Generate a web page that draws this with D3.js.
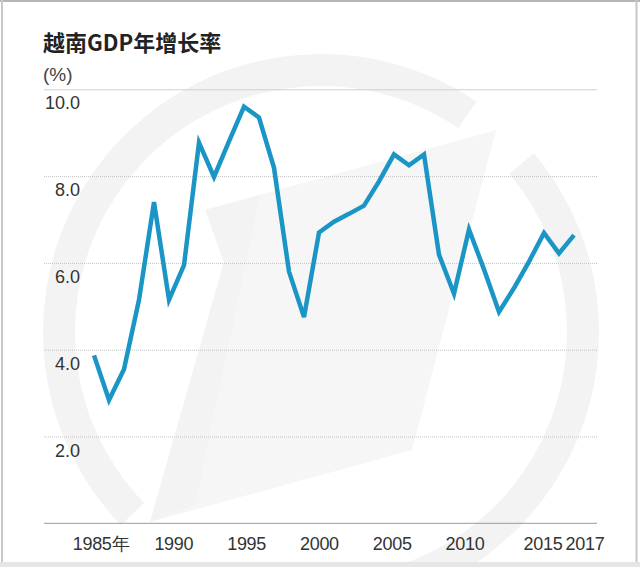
<!DOCTYPE html>
<html><head><meta charset="utf-8">
<script src="https://cdn.jsdelivr.net/npm/d3@7"></script>
<style>
html,body{margin:0;padding:0;background:#fff;}
svg{display:block;}
</style></head>
<body>
<script>
const years = [1985,1986,1987,1988,1989,1990,1991,1992,1993,1994,1995,1996,1997,1998,1999,2000,2001,2002,2003,2004,2005,2006,2007,2008,2009,2010,2011,2012,2013,2014,2015,2016,2017];
const growth = [3.87,2.84,3.55,5.15,7.4,5.15,5.95,8.77,7.98,8.8,9.6,9.35,8.19,5.8,4.75,6.7,6.95,7.13,7.32,7.88,8.5,8.25,8.5,6.19,5.29,6.77,5.85,4.87,5.42,6.03,6.69,6.22,6.64];
const yTicks = [2,4,6,8,10];
const xTickYears = [1985,1990,1995,2000,2005,2010,2015,2017];
const xTickLabels = ["1985年","1990","1995","2000","2005","2010","2015","2017"];
const title = "越南GDP年增长率";
const unit = "(%)";

const W = 640, H = 567;
const svg = d3.select("body").append("svg").attr("width", W).attr("height", H);

svg.append("rect").attr("x",0).attr("y",0).attr("width",W).attr("height",H).attr("fill","#fff");

// watermark
const wm = svg.append("g");
const cx = 321, cy = 332;
const arc = d3.arc().innerRadius(246).outerRadius(278);
const ringCol = "#f3f3f4";
wm.append("path").attr("transform",`translate(${cx},${cy})`)
  .attr("d", arc({startAngle: 50*Math.PI/180, endAngle: 200*Math.PI/180}))
  .attr("fill",ringCol);
wm.append("path").attr("transform",`translate(${cx},${cy})`)
  .attr("d", arc({startAngle: 226*Math.PI/180, endAngle: 394*Math.PI/180}))
  .attr("fill",ringCol);
wm.append("path")
  .attr("d","M205,210 L496,130 L412,450 L150,522 L224,262 Z")
  .attr("fill","#f6f6f7");
wm.append("path")
  .attr("d","M205,210 L260,195 L195,505 L150,522 L224,262 Z")
  .attr("fill","#f3f3f4");

// borders
svg.append("line").attr("x1",0).attr("x2",W).attr("y1",1).attr("y2",1).attr("stroke","#b5b5b5").attr("stroke-width",2);
svg.append("line").attr("x1",2).attr("x2",2).attr("y1",0).attr("y2",H).attr("stroke","#c8c8c8").attr("stroke-width",2);
svg.append("line").attr("x1",636.5).attr("x2",636.5).attr("y1",0).attr("y2",H).attr("stroke","#c8c8c8").attr("stroke-width",2);
svg.append("rect").attr("x",0).attr("y",562).attr("width",W).attr("height",5).attr("fill","#e6e6e6");

const x = d3.scaleLinear().domain([1985,2017]).range([94,574]);
const y = d3.scaleLinear().domain([0,10]).range([523.3,89.3]);
// tick label placement scale (labels are spaced slightly differently from the data)
const xLab = d3.scaleLinear().domain([1985,2010,2015,2017]).range([101,465,543,585]);
const gx0 = 44, gx1 = 597;

// title
svg.append("text").attr("x",43).attr("y",51).text(title)
  .attr("font-family","'Noto Sans CJK SC','Noto Sans',sans-serif")
  .attr("font-weight","bold").attr("font-size",22).attr("fill","#222");
svg.append("text").attr("x",43).attr("y",81).text(unit)
  .attr("font-family","'Liberation Sans',Arial,sans-serif")
  .attr("font-size",19).attr("fill","#444");

// gridlines
svg.append("g").selectAll("line").data(yTicks).enter().append("line")
  .attr("x1",gx0).attr("x2",gx1)
  .attr("y1",d=>y(d)+0.5).attr("y2",d=>y(d)+0.5)
  .attr("stroke", d=> d===10 ? "#cfcfcf" : "#c2c2c2")
  .attr("stroke-dasharray", d=> d===10 ? null : "1,1")
  .attr("stroke-width",1);
svg.append("line").attr("x1",gx0).attr("x2",gx1).attr("y1",y(0)).attr("y2",y(0))
  .attr("stroke","#9a9a9a").attr("stroke-width",1);

// y labels
svg.selectAll("text.yl").data(yTicks).enter().append("text")
  .attr("x",80).attr("y",d=>y(d)+20)
  .attr("text-anchor","end")
  .attr("font-family","'Liberation Sans',Arial,sans-serif")
  .attr("font-size",18).attr("fill","#333")
  .text(d=>d3.format(".1f")(d));

// x labels
svg.selectAll("text.xl").data(xTickYears).enter().append("text")
  .attr("x",d=>xLab(d))
  .attr("y",550)
  .attr("text-anchor","middle")
  .attr("font-family","'Liberation Sans',Arial,sans-serif")
  .attr("font-size",18).attr("fill","#333")
  .attr("letter-spacing",-0.3)
  .text((d,i)=>xTickLabels[i]);

// line
const line = d3.line().x((d,i)=>x(years[i])).y(d=>y(d));
svg.append("path").datum(growth)
  .attr("d",line).attr("fill","none")
  .attr("stroke","#1a95c6").attr("stroke-width",4.5)
  .attr("stroke-linejoin","miter").attr("stroke-linecap","butt");
</script>
</body></html>
